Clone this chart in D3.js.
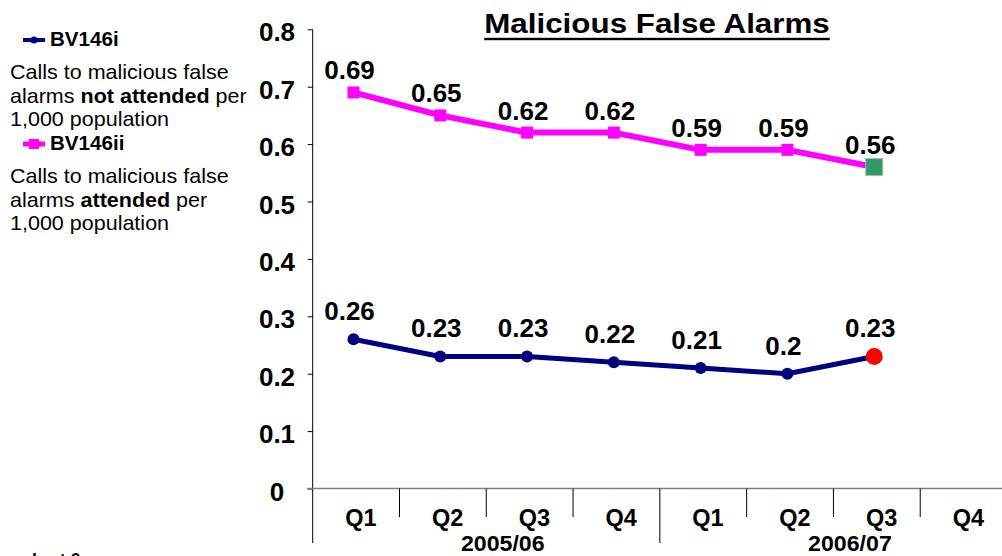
<!DOCTYPE html>
<html>
<head>
<meta charset="utf-8">
<script src="https://cdn.jsdelivr.net/npm/d3@7"></script>
<style>
  html, body { margin: 0; padding: 0; background: #fff; }
  svg { display: block; font-family: "Liberation Sans", Arial, sans-serif; }
</style>
</head>
<body>
<svg id="chart" width="1002" height="556"></svg>
<script>
// ---- data ----
const quarters = ["Q1", "Q2", "Q3", "Q4", "Q1", "Q2", "Q3", "Q4"];
const years = ["2005/06", "2006/07"];
const attended = [0.69, 0.65, 0.62, 0.62, 0.59, 0.59, 0.56];      // BV146ii
const notAttended = [0.26, 0.23, 0.23, 0.22, 0.21, 0.20, 0.23];   // BV146i
const yTicks = [0, 0.1, 0.2, 0.3, 0.4, 0.5, 0.6, 0.7, 0.8];
const titleText = "Malicious False Alarms";

// ---- layout ----
const svg = d3.select("#chart");
const x0 = 312.7, x1 = 1007, yTop = 29.3, yBot = 488.5;
const idx = d3.range(quarters.length);
const x = d3.scaleBand().domain(idx).range([x0, x1]).paddingInner(0).paddingOuter(0);
const bw = x.bandwidth();
const px = i => x(i) + bw * 0.47;
const y = d3.scaleLinear().domain([0, 0.8]).range([yBot, yTop]);

const navy = "#000080", pink = "#FF00FF";

function stretchText(g, str, cx, by, size, sx, weight, anchor) {
  return g.append("text")
    .attr("transform", `translate(${cx},${by}) scale(${sx},1)`)
    .attr("text-anchor", anchor || "middle")
    .attr("font-size", size)
    .attr("font-weight", weight || "bold")
    .attr("fill", "#000")
    .text(str);
}

// ---- y axis ----
const yAxis = d3.axisLeft(y).tickValues(yTicks).tickSize(5).tickFormat(d3.format("~g"));
const ya = svg.append("g").attr("transform", `translate(${x0},0)`).call(yAxis);
ya.select(".domain").remove();
ya.selectAll(".tick line").attr("stroke", "#000");
ya.selectAll(".tick text").remove();
yTicks.forEach(t => {
  stretchText(svg, d3.format("~g")(t), 277, y(t) + 12, 26, 1.0);
});
svg.append("line").attr("x1", x0).attr("x2", x0).attr("y1", yTop).attr("y2", 543)
  .attr("stroke", "#000").attr("stroke-width", 1);

// ---- x axis ----
svg.append("line").attr("x1", 307).attr("x2", 1002).attr("y1", yBot).attr("y2", yBot)
  .attr("stroke", "#808080").attr("stroke-width", 1.3);
idx.forEach(i => {
  if (i === 0) return;
  const long = i % 4 === 0;
  svg.append("line").attr("x1", x(i)).attr("x2", x(i))
    .attr("y1", yBot).attr("y2", long ? 543 : 517)
    .attr("stroke", "#000").attr("stroke-width", 1);
});
quarters.forEach((q, i) => {
  stretchText(svg, q, x(i) + bw * 0.555, 526, 23.5, 1.0);
});
years.forEach((yr, k) => {
  stretchText(svg, yr, x(k * 4 + 2) + 16.5, 551, 22.5, 1.03);
});

// ---- lines ----
const line = d3.line().x((d, i) => px(i)).y(d => y(d));
svg.append("path").datum(attended).attr("d", line)
  .attr("fill", "none").attr("stroke", pink).attr("stroke-width", 6).attr("stroke-linejoin", "round");
svg.append("path").datum(notAttended).attr("d", line)
  .attr("fill", "none").attr("stroke", navy).attr("stroke-width", 5).attr("stroke-linejoin", "round");

// markers
attended.forEach((v, i) => {
  const last = i === attended.length - 1;
  const s = last ? 17 : 12;
  svg.append("rect").attr("x", px(i) - s / 2).attr("y", y(v) - s / 2)
    .attr("width", s).attr("height", s)
    .attr("fill", last ? "#339966" : pink)
    .attr("stroke", last ? "#8fc9a8" : "none").attr("stroke-width", 1);
});
notAttended.forEach((v, i) => {
  const last = i === notAttended.length - 1;
  svg.append("circle").attr("cx", px(i)).attr("cy", y(v)).attr("r", last ? 8.5 : 6)
    .attr("fill", last ? "#FF0000" : navy);
});

// data labels
attended.forEach((v, i) => {
  stretchText(svg, d3.format("~g")(v), px(i) - 4, y(v) - 13, 25, 1.04);
});
notAttended.forEach((v, i) => {
  stretchText(svg, d3.format("~g")(v), px(i) - 4, y(v) - 19, 25, 1.04);
});

// ---- title ----
const tt = stretchText(svg, titleText, 657, 33, 28, 1.12);
const tw = tt.node().getComputedTextLength() * 1.12;
svg.append("rect").attr("x", 657 - tw / 2).attr("y", 37.8).attr("width", tw).attr("height", 2.4).attr("fill", "#000");

// ---- legend ----
const lg = svg.append("g");
lg.append("line").attr("x1", 23).attr("x2", 45).attr("y1", 40).attr("y2", 40)
  .attr("stroke", navy).attr("stroke-width", 4);
lg.append("circle").attr("cx", 34).attr("cy", 40).attr("r", 3.5).attr("fill", navy);
stretchText(lg, "BV146i", 50, 46, 20, 1.03, "bold", "start");

lg.append("line").attr("x1", 23).attr("x2", 45).attr("y1", 144).attr("y2", 144)
  .attr("stroke", pink).attr("stroke-width", 5);
lg.append("rect").attr("x", 29).attr("y", 139).attr("width", 10).attr("height", 10).attr("fill", pink);
stretchText(lg, "BV146ii", 50, 150, 20, 1.03, "bold", "start");

function legendLines(startY, parts) {
  parts.forEach((segs, li) => {
    const t = lg.append("text")
      .attr("transform", `translate(10,${startY + li * 23.5}) scale(1.05,1)`)
      .attr("font-size", 20.5).attr("fill", "#000");
    segs.forEach(s => t.append("tspan").attr("font-weight", s[1] ? "bold" : "normal").text(s[0]));
  });
}
legendLines(79, [
  [["Calls to malicious false", false]],
  [["alarms ", false], ["not attended", true], [" per", false]],
  [["1,000 population", false]]
]);
legendLines(183, [
  [["Calls to malicious false", false]],
  [["alarms ", false], ["attended", true], [" per", false]],
  [["1,000 population", false]]
]);

// footer
stretchText(svg, "chart 6", 22, 565, 17, 1.05, "bold", "start");
</script>
</body>
</html>
